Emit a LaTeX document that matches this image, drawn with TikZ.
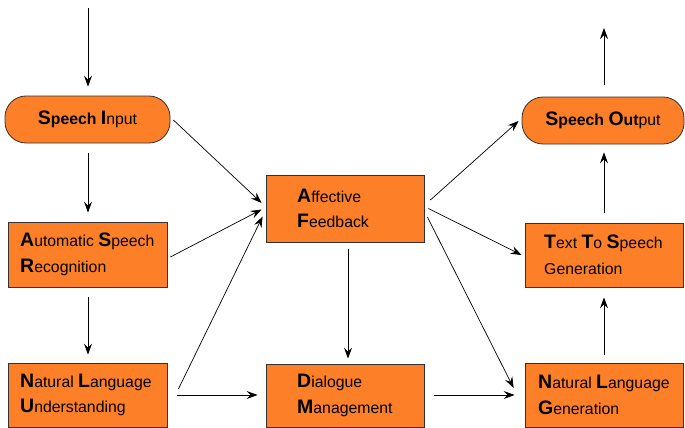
\documentclass[tikz,border=0pt]{standalone}
\usepackage{fontspec}
\setmainfont{Liberation Sans}
\usetikzlibrary{arrows.meta,calc}
\definecolor{boxfill}{RGB}{253,128,41}
\definecolor{boxline}{RGB}{50,50,50}
\newcommand\BigL[1]{{\fontsize{19.5}{25}\selectfont\bfseries #1}}
\newcommand\BoldL[1]{{\bfseries #1}}
\begin{document}
\begin{tikzpicture}[x=1pt,y=-1pt,
  box/.style={draw=boxline, fill=boxfill, line width=0.8pt, inner sep=0pt},
  pill/.style={box, rounded corners=21pt},
  txt/.style={anchor=west, align=left, inner sep=0pt, font=\fontsize{15.8}{25.5}\selectfont},
  arr/.style={-{Stealth[length=11pt,width=8pt,inset=4pt]}, line width=0.7pt}]

\useasboundingbox (0,0) rectangle (685,428);

% boxes
\node[pill, minimum width=165pt, minimum height=47pt] (si) at (87.5,119.5) {};
\node[box, minimum width=159pt, minimum height=65pt] (asr) at (87.5,254.5) {};
\node[box, minimum width=159pt, minimum height=64pt] (nlu) at (87.5,395) {};
\node[box, minimum width=158pt, minimum height=67pt] (af) at (345,208.5) {};
\node[box, minimum width=158pt, minimum height=63pt] (dm) at (345,395.5) {};
\node[pill, minimum width=162pt, minimum height=47pt] (so) at (603,120.5) {};
\node[box, minimum width=158pt, minimum height=64pt] (tts) at (604,255) {};
\node[box, minimum width=158pt, minimum height=64pt] (nlg) at (604,395) {};

% texts
\node[txt, anchor=center] (si-t) at (si.center) {\BigL{S}\BoldL{peech} \BigL{I}nput};
\node[txt] (asr-t) at (20,254.5) {\BigL{A}utomatic \BigL{S}peech\\\BigL{R}ecognition};
\node[txt] (nlu-t) at (20,395) {\BigL{N}atural \BigL{L}anguage\\\BigL{U}nderstanding};
\node[txt] (af-t) at (297,208.5) {\BigL{A}ffective\\\BigL{F}eedback};
\node[txt] (dm-t) at (297,395.5) {\BigL{D}ialogue\\\BigL{M}anagement};
\node[txt, anchor=center] (so-t) at (so.center) {\BigL{S}\BoldL{peech} \BigL{O}\BoldL{ut}put};
\node[txt] (tts-t) at (544,255) {\BigL{T}ext \BigL{T}o \BigL{S}peech\\Generation};
\node[txt] (nlg-t) at (538,395) {\BigL{N}atural \BigL{L}anguage\\\BigL{G}eneration};

% free ends
\coordinate (in) at (88,8);
\coordinate (out) at (604,28);

% connectors
\draw[arr] (in) -- ($(si.north)+(0.5,-9)$);
\draw[arr] ($(si.south)+(0.5,10)$) -- ($(asr.north)+(0.5,-9)$);
\draw[arr] ($(asr.south)+(0.5,10)$) -- ($(nlu.north)+(0.5,-8)$);
\draw[arr] ($(si.east)+(3,0.5)$) -- ($(af.west)+(-4,-5.5)$);
\draw[arr] ($(asr.east)+(3,2.5)$) -- ($(af.west)+(-4,1)$);
\draw[arr] ($(nlu.east)+(11,-6)$) -- ($(af.west)+(-3,8)$);
\draw[arr] ($(nlu.east)+(10,0)$) -- ($(dm.west)+(-8,-0.5)$);
\draw[arr] ($(af.south)+(3,7)$) -- ($(dm.north)+(3,-5)$);
\draw[arr] ($(af.east)+(6,-8.5)$) -- ($(so.west)+(-3,0.5)$);
\draw[arr] ($(af.east)+(4,0)$) -- ($(tts.west)+(-3,0)$);
\draw[arr] ($(af.east)+(3,8.5)$) -- ($(nlg.west)+(-11,-7)$);
\draw[arr] ($(dm.east)+(10,-0.5)$) -- ($(nlg.west)+(-10,0)$);
\draw[arr] ($(nlg.north)+(0,-8)$) -- ($(tts.south)+(0,10)$);
\draw[arr] ($(tts.north)+(0,-10)$) -- ($(so.south)+(1,8)$);
\draw[arr] ($(so.north)+(1,-12)$) -- (out);
\end{tikzpicture}
\end{document}
